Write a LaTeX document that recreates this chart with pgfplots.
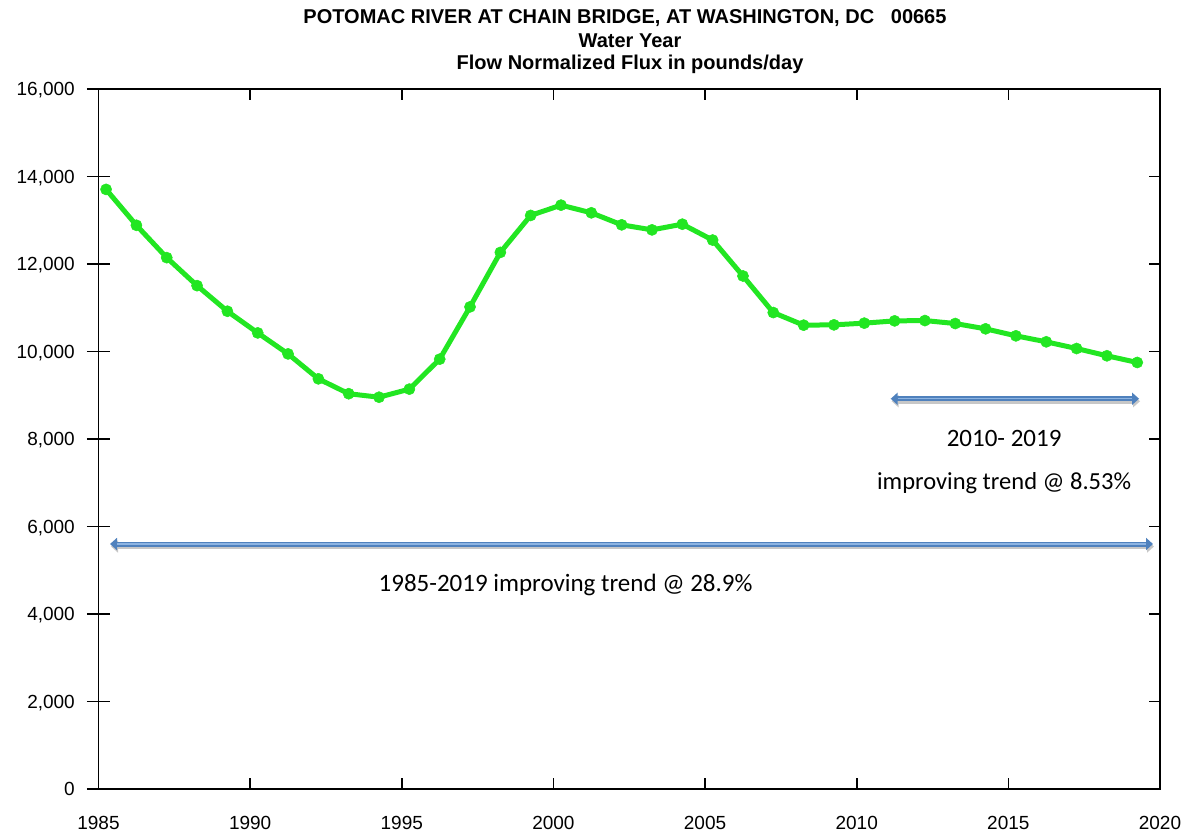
\documentclass[border=0pt]{standalone}
\usepackage{fontspec}
\setmainfont{Liberation Sans}
\newfontfamily\carlito{Carlito}
\usepackage{pgfplots}
\pgfplotsset{compat=1.18}
\usetikzlibrary{arrows.meta}
\definecolor{lgreen}{RGB}{34,230,34}
\definecolor{arrblue}{RGB}{79,129,189}
\definecolor{arrhi}{RGB}{141,180,226}
\begin{document}
\begin{tikzpicture}
\useasboundingbox (-98.5pt,-50pt) rectangle (1098.5pt,789pt);
% axis B: left y ticks crossing the axis, with labels
\begin{axis}[
  scale only axis, width=1061.5pt, height=700pt,
  xmin=1985, xmax=2020, ymin=0, ymax=16000,
  scaled y ticks=false, scaled x ticks=false,
  axis line style={line width=1.8pt},
  xtick=\empty,
  ytick={0,2000,4000,6000,8000,10000,12000,14000,16000},
  yticklabels={0,{2,000},{4,000},{6,000},{8,000},{10,000},{12,000},{14,000},{16,000}},
  ytick pos=left, tick align=inside, major tick length=23pt,
  ytick style={xshift=-11.5pt, line width=1.6pt, black},
  yticklabel style={font=\fontsize{19}{22}\selectfont, anchor=base east, inner sep=0pt, xshift=-23.5pt, yshift=-6.8pt},
]
\end{axis}
% axis A: data, x ticks, right ticks
\begin{axis}[
  scale only axis, width=1061.5pt, height=700pt,
  xmin=1985, xmax=2020, ymin=0, ymax=16000,
  scaled y ticks=false, scaled x ticks=false,
  clip=false,
  axis line style={line width=1.8pt},
  xtick={1985,1990,1995,2000,2005,2010,2015,2020},
  xticklabels={1985,1990,1995,2000,2005,2010,2015,2020},
  xtick pos=both,
  ytick={0,2000,4000,6000,8000,10000,12000,14000,16000},
  yticklabels={},
  ytick pos=right,
  tick align=inside, major tick length=11pt,
  every tick/.style={black, line width=1.6pt},
  xticklabel style={font=\fontsize{19}{22}\selectfont, anchor=base, inner sep=0pt, yshift=-40.5pt},
]
\addplot[lgreen, line width=5pt, line join=round, mark=*, mark size=5.6pt, mark options={solid, fill=lgreen, draw=lgreen, line width=0.5pt}] coordinates {
(1985.25,13705) (1986.25,12885) (1987.25,12145) (1988.25,11505) (1989.25,10920)
(1990.25,10425) (1991.25,9945) (1992.25,9375) (1993.25,9035) (1994.25,8955)
(1995.25,9140) (1996.25,9825) (1997.25,11020) (1998.25,12265) (1999.25,13110)
(2000.25,13345) (2001.25,13170) (2002.25,12895) (2003.25,12780) (2004.25,12910)
(2005.25,12547) (2006.25,11726) (2007.25,10890) (2008.25,10602) (2009.25,10609)
(2010.25,10648) (2011.25,10700) (2012.25,10707) (2013.25,10639) (2014.25,10518)
(2015.25,10358) (2016.25,10221) (2017.25,10068) (2018.25,9902) (2019.25,9749)
};
% shadows
\draw[black!22, line width=5pt, transform canvas={shift={(1pt,-2.5pt)}}, {Triangle[length=7pt,width=12pt]}-{Triangle[length=7pt,width=12pt]}] (axis cs:2011.12,8920) -- (axis cs:2019.31,8920);
\draw[black!22, line width=5pt, transform canvas={shift={(1pt,-2.5pt)}}, {Triangle[length=7pt,width=12pt]}-{Triangle[length=7pt,width=12pt]}] (axis cs:1985.38,5600) -- (axis cs:2019.77,5600);
% arrows
\draw[arrblue, line width=5pt, {Triangle[length=7pt,width=12pt]}-{Triangle[length=7pt,width=12pt]}] (axis cs:2011.12,8920) -- (axis cs:2019.31,8920);
\draw[arrblue, line width=5pt, {Triangle[length=7pt,width=12pt]}-{Triangle[length=7pt,width=12pt]}] (axis cs:1985.38,5600) -- (axis cs:2019.77,5600);
\draw[arrhi, line width=1.5pt, shorten <=7pt, shorten >=7pt] (axis cs:2011.12,8920) -- (axis cs:2019.31,8920);
\draw[arrhi, line width=1.5pt, shorten <=7pt, shorten >=7pt] (axis cs:1985.38,5600) -- (axis cs:2019.77,5600);
% annotations
\node[font=\carlito\fontsize{25}{30}\selectfont, inner sep=0pt] at (axis cs:2014.86,8023) {2010- 2019};
\node[font=\carlito\fontsize{24.5}{30}\selectfont, inner sep=0pt] at (axis cs:2014.86,6994) {improving trend @ 8.53\%};
\node[font=\carlito\fontsize{25}{30}\selectfont, inner sep=0pt] at (axis cs:2000.40,4663) {1985-2019 improving trend @ 28.9\%};
\end{axis}
% titles
\node[font=\bfseries\fontsize{20}{24}\selectfont, inner sep=0pt] at (526.5pt,771pt) {POTOMAC RIVER AT CHAIN BRIDGE, AT WASHINGTON, DC\ \ \ 00665};
\node[font=\bfseries\fontsize{20}{24}\selectfont, inner sep=0pt] at (531.5pt,748pt) {Water Year};
\node[font=\bfseries\fontsize{20}{24}\selectfont, inner sep=0pt] at (531.5pt,725pt) {Flow Normalized Flux in pounds/day};
\end{tikzpicture}
\end{document}
